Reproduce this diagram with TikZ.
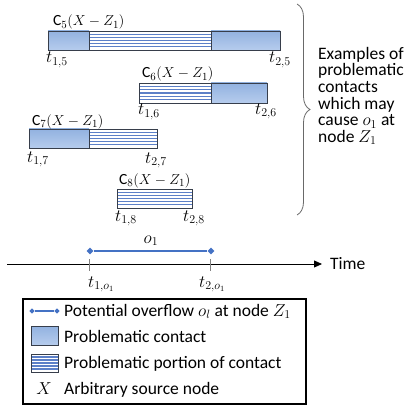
\documentclass[tikz,border=0pt]{standalone}
\usepackage{fontspec}
\setmainfont{Carlito}
\usetikzlibrary{arrows.meta,shapes.geometric,decorations.pathreplacing}
\definecolor{bluefillA}{RGB}{146,178,224}
\definecolor{bluefillB}{RGB}{182,204,237}
\definecolor{hatchblue}{RGB}{92,128,200}
\definecolor{barline}{RGB}{55,62,75}
\definecolor{ovblue}{RGB}{68,114,196}
\definecolor{bracegray}{RGB}{105,105,105}
\definecolor{tickgray}{RGB}{130,130,130}
\newcommand\hatchbox[4]{%
  \fill[white] (#1,#2) rectangle (#3,#4);
  \foreach \k in {1,...,5}{\draw[hatchline] (#1,{#2+\k*(#4-#2)/6}) -- (#3,{#2+\k*(#4-#2)/6});}
  \draw[barborder] (#1,#2) rectangle (#3,#4);}
\newcommand\bluebox[4]{%
  \shade[top color=bluefillA, bottom color=bluefillB] (#1,#2) rectangle (#3,#4);
  \draw[barborder] (#1,#2) rectangle (#3,#4);}
\begin{document}
\begin{tikzpicture}[x=1pt,y=-1pt,
  every node/.style={inner sep=0pt, font=\fontsize{17.5}{17.5}\selectfont},
  lab/.style={font=\fontsize{16.5}{16.5}\selectfont},
  clab/.style={font=\fontsize{15.5}{15.5}\selectfont},
  hatchline/.style={draw=hatchblue, line width=1.25pt},
  barborder/.style={draw=barline, line width=0.8pt},
  dmd/.style={diamond, fill=ovblue, inner sep=0pt, minimum width=7pt, minimum height=7pt},
  ldmd/.style={diamond, fill=ovblue, inner sep=0pt, minimum width=5.5pt, minimum height=5.5pt},
  ovline/.style={draw=ovblue, line width=1.8pt},
  tick/.style={draw=tickgray, line width=0.8pt}]
\useasboundingbox (0,0) rectangle (412,409);

% ---- contact C5
\bluebox{48}{31}{89}{50}
\hatchbox{89}{31}{211}{50}
\bluebox{211}{31}{280}{50}
\node[clab, anchor=base west] (c5) at (53,26) {C$_5(X-Z_1)$};
\node[lab, anchor=base west] (t15) at (46,63) {$t_{1,5}$};
\node[lab, anchor=base west] (t25) at (269,63) {$t_{2,5}$};

% ---- contact C6
\hatchbox{139}{83}{211}{103}
\bluebox{211}{83}{267}{103}
\node[clab, anchor=base west] (c6) at (142,78) {C$_6(X-Z_1)$};
\node[lab, anchor=base west] (t16) at (138,115) {$t_{1,6}$};
\node[lab, anchor=base west] (t26) at (255,114) {$t_{2,6}$};

% ---- contact C7
\bluebox{29}{129}{89}{148}
\hatchbox{89}{129}{157}{148}
\node[clab, anchor=base west] (c7) at (32,125) {C$_7(X-Z_1)$};
\node[lab, anchor=base west] (t17) at (27,162) {$t_{1,7}$};
\node[lab, anchor=base west] (t27) at (145,163) {$t_{2,7}$};

% ---- contact C8
\hatchbox{117}{189}{192}{208}
\node[clab, anchor=base west] (c8) at (119,184) {C$_8(X-Z_1)$};
\node[lab, anchor=base west] (t18) at (115,221) {$t_{1,8}$};
\node[lab, anchor=base west] (t28) at (183,221) {$t_{2,8}$};

% ---- brace and explanation
\coordinate (bt) at (297,4);
\coordinate (bb) at (297,215);
\draw[bracegray, line width=0.8pt, decorate, decoration={brace, amplitude=13pt}] (bt) -- (bb);
\node[anchor=north west, align=left, font=\fontsize{17.5}{16.6}\selectfont] (expl) at (318,47)
  {Examples of\\problematic\\contacts\\which may\\cause $o_1$ at\\node $Z_1$};

% ---- overflow interval
\node[dmd] (os) at (90,251) {};
\node[dmd] (oe) at (211,251) {};
\draw[ovline] (os) -- (oe);
\node[lab, anchor=base, font=\fontsize{18}{18}\selectfont] (o1) at (151,243) {$o_1$};

% ---- time axis
\coordinate (ax0) at (7,264);
\coordinate (ax1) at (322,264);
\draw[line width=0.8pt, -{Triangle[length=8pt,width=7pt]}] (ax0) -- (ax1);
\node[anchor=base west] (time) at (330,269) {Time};
\coordinate (tka) at (89,259);
\coordinate (tkb) at (89,271);
\coordinate (tkc) at (210,259);
\coordinate (tkd) at (210,271);
\draw[tick] (tka) -- (tkb);
\draw[tick] (tkc) -- (tkd);
\node[lab, anchor=base west] (t1o) at (88,287) {$t_{1,o_1}$};
\node[lab, anchor=base west] (t2o) at (199,287) {$t_{2,o_1}$};

% ---- legend
\draw[line width=1.2pt] (23,299) rectangle (306,404);
\node[ldmd] (ls) at (32,311) {};
\node[ldmd] (le) at (57,311) {};
\draw[draw=ovblue, line width=1.5pt] (ls) -- (le);
\node[anchor=base west] (lg1) at (64,316) {Potential overflow $o_l$ at node $Z_1$};
\bluebox{31}{326}{58}{345}
\node[anchor=base west] (lg2) at (64,342) {Problematic contact};
\hatchbox{31}{354}{58}{372}
\node[anchor=base west] (lg3) at (64,368) {Problematic portion of contact};
\node[anchor=base] (lgx) at (44,394) {$X$};
\node[anchor=base west] (lg4) at (64,394) {Arbitrary source node};
\end{tikzpicture}
\end{document}
